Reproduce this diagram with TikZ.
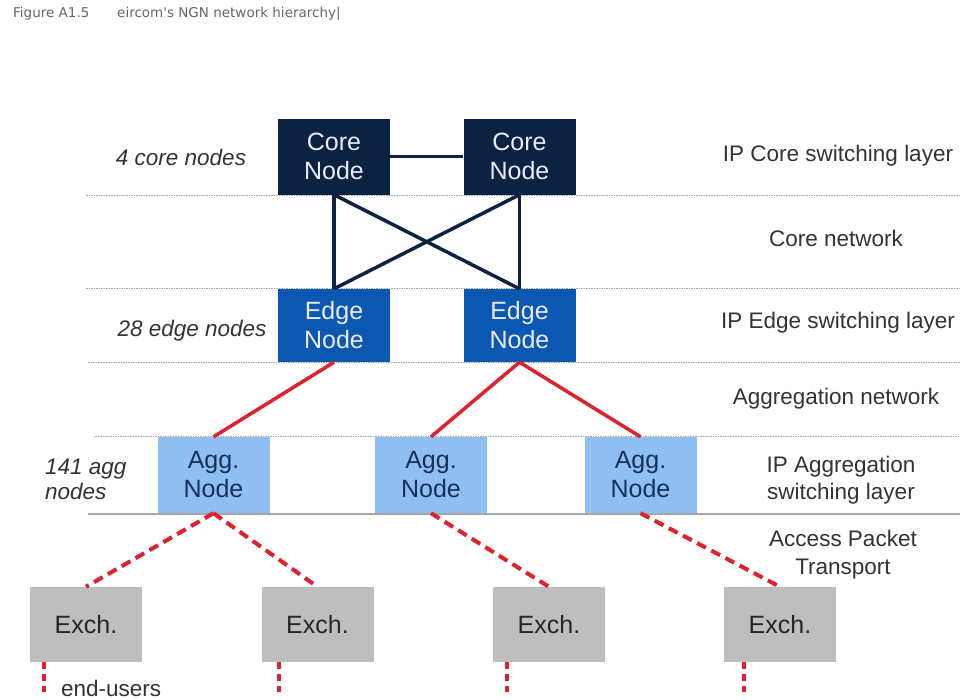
\documentclass[tikz,border=0pt]{standalone}
\usepackage{fontspec}
\setmainfont{Liberation Sans}
\newfontfamily\titlefont{DejaVu Sans}
\begin{document}
\begin{tikzpicture}[x=1pt,y=-1pt,
  box/.style={rectangle,inner sep=0pt,minimum width=112pt,minimum height=76pt,
    align=center,font=\fontsize{25}{29}\selectfont},
  corebox/.style={box,fill=corecol,text=white!92!blue},
  edgebox/.style={box,fill=edgecol,text=white!92!blue,minimum height=73pt},
  aggbox/.style={box,fill=aggcol,text=aggtext},
  exchbox/.style={box,fill=exchcol,text=black!85,minimum height=75pt},
  lbl/.style={text=black!80,font=\fontsize{22.5}{27}\selectfont,align=center,inner sep=0pt},
  sidelbl/.style={lbl,font=\fontsize{22.5}{25}\selectfont\itshape},
  titlelbl/.style={anchor=west,inner sep=0pt,text=black!60,font=\titlefont\fontsize{13.5}{15}\selectfont},
  layerline/.style={draw=black!35,line width=0.9pt,dash pattern=on 1.5pt off 1pt},
  coreline/.style={draw=corecol,line width=3.5pt},
  redline/.style={draw=linkred,line width=3.5pt},
  reddash/.style={draw=linkred,line width=4pt,dash pattern=on 10pt off 6pt},
  stub/.style={draw=linkred,line width=4pt,dash pattern=on 7pt off 5pt}]
\definecolor{corecol}{HTML}{0C2242}
\definecolor{edgecol}{HTML}{0B57B2}
\definecolor{aggcol}{HTML}{8FBFF2}
\definecolor{aggtext}{HTML}{17305A}
\definecolor{exchcol}{HTML}{BEBEBE}
\definecolor{linkred}{HTML}{E0202C}
\useasboundingbox[fill=white] (0,0) rectangle (963,699);

% caption
\node[titlelbl] (fig) at (13,14) {Figure A1.5};
\node[titlelbl] (cap) at (117,14) {eircom's NGN network hierarchy|};

% layer separators
\coordinate (l1a) at (86,195);  \coordinate (l1b) at (960,195);
\coordinate (l2a) at (86,288);  \coordinate (l2b) at (960,288);
\coordinate (l3a) at (88,362);  \coordinate (l3b) at (960,362);
\coordinate (l4a) at (95,436);  \coordinate (l4b) at (960,436);
\coordinate (l5a) at (88,514);  \coordinate (l5b) at (960,514);
\draw[layerline] (l1a) -- (l1b);
\draw[layerline] (l2a) -- (l2b);
\draw[layerline] (l3a) -- (l3b);
\draw[layerline] (l4a) -- (l4b);
\draw[draw=black!35,line width=1.2pt] (l5a) -- (l5b);

% nodes
\node[corebox] (c1) at (334,156.5) {Core\\Node};
\node[corebox] (c2) at (519.5,156.5) {Core\\Node};
\node[edgebox] (e1) at (334,325.5) {Edge\\Node};
\node[edgebox] (e2) at (519.5,325.5) {Edge\\Node};
\node[aggbox] (a1) at (213.5,475) {Agg.\\Node};
\node[aggbox] (a2) at (431,475) {Agg.\\Node};
\node[aggbox] (a3) at (640.5,475) {Agg.\\Node};
\node[exchbox] (x1) at (86,624.5) {Exch.};
\node[exchbox] (x2) at (317.5,624.5) {Exch.};
\node[exchbox] (x3) at (549,624.5) {Exch.};
\node[exchbox] (x4) at (780,624.5) {Exch.};

% core network
\draw[coreline] (c1.east) -- (c2.west);
\draw[coreline] (c1.south) -- (e1.north);
\draw[coreline] (c1.south) -- (e2.north);
\draw[coreline] (c2.south) -- (e1.north);
\draw[coreline] (c2.south) -- (e2.north);

% aggregation network
\draw[redline] (e1.south) -- (a1.north);
\draw[redline] (e2.south) -- (a2.north);
\draw[redline] (e2.south) -- (a3.north);

% access packet transport
\draw[reddash] (a1.south) -- (x1.north);
\draw[reddash] (a1.south) -- (x2.north);
\draw[reddash] (a2.south) -- (x3.north);
\draw[reddash] (a3.south) -- (x4.north);

% links to end-users
\coordinate (u1) at (44,692);
\coordinate (u2) at (279,692);
\coordinate (u3) at (507,692);
\coordinate (u4) at (744,692);
\draw[stub] (u1 |- x1.south) -- (u1);
\draw[stub] (u2 |- x2.south) -- (u2);
\draw[stub] (u3 |- x3.south) -- (u3);
\draw[stub] (u4 |- x4.south) -- (u4);
\node[lbl,anchor=west] (eu) at (61,688) {end-users};

% left annotations
\node[sidelbl] (n4) at (181,157) {4 core nodes};
\node[sidelbl] (n28) at (192,331) {28 edge nodes};
\node[sidelbl,anchor=west,align=left] (n141) at (45,479) {141 agg\\nodes};

% layer names
\node[lbl] (r1) at (838,156) {IP Core switching layer};
\node[lbl] (r2) at (836,238) {Core network};
\node[lbl] (r3) at (838,323) {IP Edge switching layer};
\node[lbl] (r4) at (836,399) {Aggregation network};
\node[lbl] (r5) at (841,480) {IP Aggregation\\switching layer};
\node[lbl,font=\fontsize{22.5}{28}\selectfont] (r6) at (843,555) {Access Packet\\Transport};
\end{tikzpicture}
\end{document}
